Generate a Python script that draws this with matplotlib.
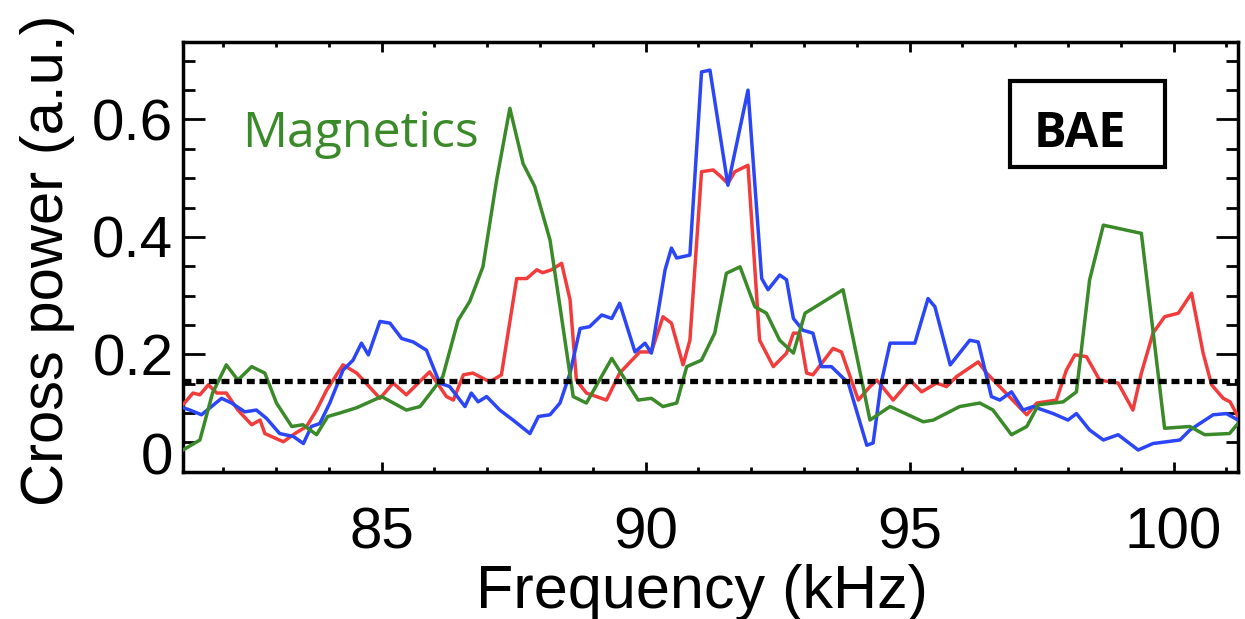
import matplotlib
matplotlib.use("Agg")
import matplotlib.pyplot as plt
from matplotlib import font_manager
from matplotlib.ticker import MultipleLocator, FixedLocator
from matplotlib.patches import Rectangle
from matplotlib.transforms import ScaledTranslation

# ---------------- data ----------------
green_f = [81.24, 81.56, 81.80, 82.06, 82.28, 82.54, 82.79, 83.01, 83.30, 83.51,
           83.77, 83.98, 84.21, 84.53, 85.00, 85.47, 85.73, 85.97, 86.16, 86.45,
           86.67, 86.92, 87.18, 87.43, 87.68, 87.90, 88.19, 88.38, 88.63, 88.88,
           89.36, 89.86, 90.11, 90.33, 90.59, 90.78, 91.06, 91.31, 91.53, 91.79,
           92.07, 92.29, 92.54, 92.80, 93.02, 93.74, 94.25, 94.63, 95.26, 95.45,
           95.95, 96.33, 96.58, 96.93, 97.22, 97.44, 97.91, 98.16, 98.41, 98.67,
           99.39, 99.83, 100.31, 100.59, 101.06, 101.22]
green_p = [0.037, 0.054, 0.134, 0.182, 0.156, 0.179, 0.168, 0.117, 0.077, 0.080,
           0.063, 0.094, 0.100, 0.109, 0.128, 0.105, 0.111, 0.139, 0.162, 0.258,
           0.290, 0.349, 0.497, 0.619, 0.525, 0.486, 0.395, 0.281, 0.128, 0.117,
           0.193, 0.122, 0.125, 0.111, 0.117, 0.179, 0.190, 0.236, 0.338, 0.349,
           0.281, 0.270, 0.224, 0.202, 0.270, 0.310, 0.088, 0.111, 0.085, 0.088,
           0.111, 0.117, 0.105, 0.063, 0.077, 0.114, 0.119, 0.136, 0.327, 0.420,
           0.406, 0.074, 0.077, 0.063, 0.065, 0.082]

red_f = [81.18, 81.43, 81.56, 81.72, 81.88, 82.06, 82.28, 82.54, 82.70, 82.79,
         83.14, 83.36, 83.58, 83.77, 83.96, 84.27, 84.53, 84.97, 85.22, 85.47,
         85.91, 86.23, 86.36, 86.55, 86.73, 87.05, 87.27, 87.56, 87.75, 87.94,
         88.05, 88.22, 88.41, 88.57, 88.69, 88.88, 89.26, 89.51, 89.89, 90.11,
         90.33, 90.49, 90.71, 90.84, 91.06, 91.28, 91.41, 91.56, 91.69, 91.94,
         92.16, 92.42, 92.67, 92.80, 92.92, 93.05, 93.17, 93.55, 93.71, 94.03,
         94.25, 94.38, 94.69, 95.01, 95.23, 95.51, 95.70, 95.89, 96.30, 96.46,
         96.77, 97.22, 97.41, 97.78, 97.97, 98.13, 98.35, 98.60, 98.95, 99.23,
         99.39, 99.61, 99.83, 100.09, 100.34, 100.56, 100.72, 100.94, 101.07, 101.22]
red_p = [0.108, 0.134, 0.131, 0.148, 0.134, 0.134, 0.105, 0.080, 0.088, 0.065,
         0.051, 0.065, 0.077, 0.105, 0.139, 0.182, 0.168, 0.125, 0.151, 0.131,
         0.170, 0.128, 0.122, 0.165, 0.168, 0.153, 0.165, 0.329, 0.329, 0.344,
         0.339, 0.344, 0.355, 0.293, 0.156, 0.134, 0.122, 0.168, 0.204, 0.204,
         0.264, 0.253, 0.182, 0.224, 0.511, 0.514, 0.504, 0.491, 0.511, 0.522,
         0.224, 0.179, 0.202, 0.236, 0.236, 0.168, 0.165, 0.210, 0.204, 0.122,
         0.145, 0.156, 0.122, 0.156, 0.136, 0.151, 0.145, 0.162, 0.187, 0.168,
         0.139, 0.097, 0.117, 0.122, 0.173, 0.199, 0.196, 0.156, 0.151, 0.105,
         0.168, 0.236, 0.264, 0.270, 0.304, 0.202, 0.148, 0.125, 0.119, 0.094]

blue_f = [81.18, 81.37, 81.59, 81.97, 82.16, 82.41, 82.63, 82.82, 83.07, 83.33,
          83.52, 83.67, 83.83, 84.02, 84.27, 84.46, 84.62, 84.75, 84.97, 85.16,
          85.38, 85.60, 85.85, 86.10, 86.29, 86.58, 86.70, 86.83, 86.99, 87.24,
          87.49, 87.81, 87.97, 88.19, 88.38, 88.57, 88.76, 88.94, 89.17, 89.36,
          89.51, 89.80, 89.99, 90.11, 90.37, 90.49, 90.59, 90.84, 91.06, 91.22,
          91.56, 91.94, 92.20, 92.32, 92.54, 92.67, 92.80, 92.98, 93.17, 93.33,
          93.52, 93.84, 94.19, 94.31, 94.46, 94.63, 95.10, 95.35, 95.48, 95.77,
          96.14, 96.30, 96.55, 96.71, 96.93, 97.15, 97.34, 97.72, 98.00, 98.16,
          98.41, 98.67, 98.95, 99.33, 99.61, 100.12, 100.31, 100.75, 101.00, 101.22]
blue_p = [0.111, 0.105, 0.097, 0.125, 0.117, 0.102, 0.105, 0.091, 0.065, 0.060,
          0.048, 0.077, 0.082, 0.117, 0.173, 0.190, 0.219, 0.199, 0.256, 0.253,
          0.227, 0.221, 0.207, 0.151, 0.145, 0.111, 0.134, 0.119, 0.128, 0.105,
          0.088, 0.065, 0.094, 0.097, 0.117, 0.168, 0.244, 0.247, 0.267, 0.261,
          0.287, 0.204, 0.219, 0.202, 0.344, 0.381, 0.364, 0.369, 0.681, 0.684,
          0.488, 0.650, 0.329, 0.310, 0.335, 0.327, 0.261, 0.241, 0.236, 0.179,
          0.179, 0.151, 0.045, 0.049, 0.150, 0.219, 0.219, 0.295, 0.281, 0.182,
          0.224, 0.221, 0.128, 0.122, 0.136, 0.105, 0.111, 0.099, 0.088, 0.099,
          0.071, 0.054, 0.063, 0.037, 0.048, 0.054, 0.071, 0.097, 0.099, 0.088]

threshold = 0.155
x_ticks = [85, 90, 95, 100]
x_ticklabels = ["85", "90", "95", "100"]
y_ticks = [0.0, 0.2, 0.4, 0.6]
y_ticklabels = ["0", "0.2", "0.4", "0.6"]
x_label = "Frequency (kHz)"
y_label = "Cross power (a.u.)"
annot_text = "Magnetics"
box_text = "BAE"

# ---------------- style ----------------
RED = "#f23c3c"
BLUE = "#2b45f8"
GREEN = "#3b8a29"

names = {f.name for f in font_manager.fontManager.ttflist}
SANS = "Liberation Sans" if "Liberation Sans" in names else "DejaVu Sans"
HUMAN = "Open Sans" if "Open Sans" in names else SANS

W, H = 1245, 619
fig = plt.figure(figsize=(W / 100, H / 100), dpi=100)
ax = fig.add_axes([183 / W, (H - 471.7) / H, 1055 / W, 429.7 / H])

lw = 2.5
ax.plot(red_f, red_p, color=RED, lw=lw, zorder=3)
ax.plot(blue_f, blue_p, color=BLUE, lw=lw, zorder=4)
ax.plot(green_f, green_p, color=GREEN, lw=lw, zorder=5)
ax.axhline(threshold, color="black", lw=3.8, linestyle=(0, (1.5, 0.9)), zorder=6)

ax.set_xlim(81.24, 101.22)
ax.set_ylim(0.0, 0.732)

ax.xaxis.set_major_locator(FixedLocator(x_ticks))
ax.set_xticklabels(x_ticklabels)
ax.xaxis.set_minor_locator(MultipleLocator(1))
ax.yaxis.set_major_locator(FixedLocator(y_ticks))
ax.set_yticklabels(y_ticklabels)
ax.yaxis.set_minor_locator(MultipleLocator(0.05))

for s in ax.spines.values():
    s.set_linewidth(2.5)

ax.tick_params(axis="x", which="major", direction="in", top=True, bottom=True,
               length=7, width=2.0, pad=25, labelsize=42)
ax.tick_params(axis="x", which="minor", direction="in", top=True, bottom=True,
               length=3.5, width=2.0)
ax.tick_params(axis="y", which="major", direction="in", left=True, right=True,
               length=15.5, width=2.0, pad=7, labelsize=42)
ax.tick_params(axis="y", which="minor", direction="in", left=True, right=True,
               length=8.5, width=2.0)
for lab in ax.get_xticklabels() + ax.get_yticklabels():
    lab.set_fontfamily(SANS)

# the "0" label sits higher than its tick in the reference
yt = ax.yaxis.get_major_ticks()
yt[0].label1.set_transform(yt[0].label1.get_transform()
                           + ScaledTranslation(0, 18 / 100, fig.dpi_scale_trans))

# axis labels
fig.text(702 / W, (H - 608) / H, x_label, ha="center", va="baseline",
         fontsize=44, family=SANS)
fig.text(63 / W, (H - 506) / H, y_label, rotation=90, rotation_mode="anchor",
         ha="left", va="baseline", fontsize=43, family=SANS)

# annotations
ax.text(0.056, 0.756, annot_text, transform=ax.transAxes, ha="left",
        va="baseline", fontsize=36, color=GREEN, family=HUMAN)
ax.add_patch(Rectangle((0.784, 0.709), 0.147, 0.200, transform=ax.transAxes,
                       fill=False, edgecolor="black", lw=3.0, zorder=7))
ax.text(0.850, 0.756, box_text, transform=ax.transAxes, ha="center",
        va="baseline", fontsize=35, fontweight="bold", family=HUMAN, zorder=8)

fig.savefig("out.png", dpi=100)
